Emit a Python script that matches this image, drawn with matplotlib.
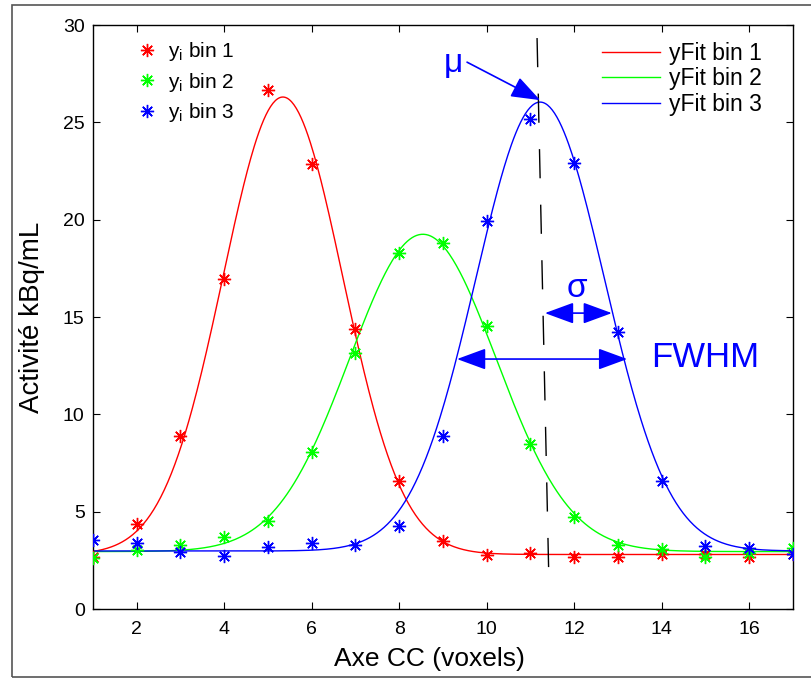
import numpy as np
import matplotlib
matplotlib.use("Agg")
import matplotlib.pyplot as plt
from matplotlib.patches import FancyArrowPatch, Rectangle

plt.rcParams['font.family'] = ['Liberation Sans', 'DejaVu Sans']

# Measured activity per voxel along the CC axis, one series per bin
voxels = np.arange(1, 18)
yi_bin1 = [2.67, 4.37, 8.89, 16.95, 26.66, 22.86, 14.38, 6.57, 3.49, 2.77,
           2.88, 2.67, 2.67, 2.80, 2.82, 2.67, 2.80]
yi_bin2 = [2.62, 3.03, 3.29, 3.70, 4.52, 8.06, 13.15, 18.28, 18.80, 14.53,
           8.47, 4.73, 3.29, 3.08, 2.67, 2.88, 3.13]
yi_bin3 = [3.54, 3.39, 2.93, 2.72, 3.18, 3.39, 3.29, 4.26, 8.89, 19.93,
           25.17, 22.91, 14.23, 6.57, 3.24, 3.13, 2.82]

# Gaussian fit parameters (amplitude above offset, mean, sigma, offset)
fit_amp = [23.5, 16.3, 23.06]
fit_mu = [5.34, 8.54, 11.22]
fit_sigma = [1.37, 1.68, 1.47]
fit_offset = [2.80, 2.95, 2.98]

colors = ['#ff0000', '#00ff00', '#0000ff']
point_labels = [r'$\mathregular{y_i}$ bin 1', r'$\mathregular{y_i}$ bin 2',
                r'$\mathregular{y_i}$ bin 3']
fit_labels = ['yFit bin 1', 'yFit bin 2', 'yFit bin 3']

x_ticks = [2, 4, 6, 8, 10, 12, 14, 16]
y_ticks = [0, 5, 10, 15, 20, 25, 30]

fig = plt.figure(figsize=(8.12, 6.79), dpi=100)
ax = fig.add_axes([93 / 812, 70 / 679, 700 / 812, 584 / 679])

xs = np.linspace(1, 17, 600)
point_handles = []
fit_handles = []
series = [yi_bin1, yi_bin2, yi_bin3]
for k in range(3):
    yfit = fit_offset[k] + fit_amp[k] * np.exp(-(xs - fit_mu[k]) ** 2 / (2 * fit_sigma[k] ** 2))
    lf, = ax.plot(xs, yfit, color=colors[k], lw=1.0, label=fit_labels[k], zorder=2)
    fit_handles.append(lf)
for k in range(3):
    lp, = ax.plot(voxels, series[k], linestyle='none', marker=(8, 2, 0),
                  markersize=9.5, markeredgewidth=1.0, color=colors[k],
                  label=point_labels[k], zorder=3)
    point_handles.append(lp)

ax.set_xlim(1, 17)
ax.set_ylim(0, 30)
ax.set_xticks(x_ticks)
ax.set_yticks(y_ticks)
ax.tick_params(direction='in', top=True, right=True, length=5, width=0.8,
               labelsize=14, pad=6)
ax.tick_params(axis='x', pad=9)
for s in ax.spines.values():
    s.set_linewidth(1.0)
    s.set_color('black')

ax.set_xlabel('Axe CC (voxels)', fontsize=19, labelpad=2)
ax.xaxis.set_label_coords(0.48, -0.065)
ax.set_ylabel('Activité kBq/mL', fontsize=20, labelpad=4)
ax.yaxis.set_label_coords(-0.069, 0.5)

leg1 = ax.legend(handles=point_handles, loc='upper left',
                 bbox_to_anchor=(0.045, 0.995), frameon=False, fontsize=15,
                 handlelength=1.0, handletextpad=0.5, labelspacing=0.35,
                 borderaxespad=0.2)
ax.add_artist(leg1)
ax.legend(handles=fit_handles, loc='upper right', bbox_to_anchor=(0.975, 0.995),
          frameon=False, fontsize=16.5, handlelength=2.5, handletextpad=0.4,
          labelspacing=0.12, borderaxespad=0.2)

# Mean of bin 3, marked by a long-dash line
ax.plot([11.15, 11.42], [29.33, 1.49], color='black', lw=1.0,
        dashes=(21, 19), zorder=4)

blue = '#0000ff'
head = 'head_length=1.5,head_width=0.55'
ax.add_patch(FancyArrowPatch((9.55, 28.09), (11.22, 26.14),
                             arrowstyle='-|>,' + head, mutation_scale=12,
                             color=blue, lw=1.2, shrinkA=0, shrinkB=0, zorder=5))
ax.text(9.23, 28.0, 'μ', color=blue, fontsize=24, ha='center', va='center')

ax.add_patch(FancyArrowPatch((11.33, 15.2), (12.86, 15.2),
                             arrowstyle='<|-|>,' + head, mutation_scale=12,
                             color=blue, lw=1.2, shrinkA=0, shrinkB=0, zorder=5))
ax.text(12.06, 16.45, 'σ', color=blue, fontsize=24, ha='center', va='center')

ax.add_patch(FancyArrowPatch((9.32, 12.84), (13.21, 12.84),
                             arrowstyle='<|-|>,' + head, mutation_scale=12,
                             color=blue, lw=1.2, shrinkA=0, shrinkB=0, zorder=5))
ax.text(14.99, 12.94, 'FWHM', color=blue, fontsize=25, ha='center', va='center')

# Thin frame around the figure
fig.patches.append(Rectangle((12 / 812, 2 / 679), 1.0, 672 / 679,
                             transform=fig.transFigure, fill=False,
                             edgecolor='#555555', lw=1.2))

fig.savefig('out.png', dpi=100, facecolor='white')
